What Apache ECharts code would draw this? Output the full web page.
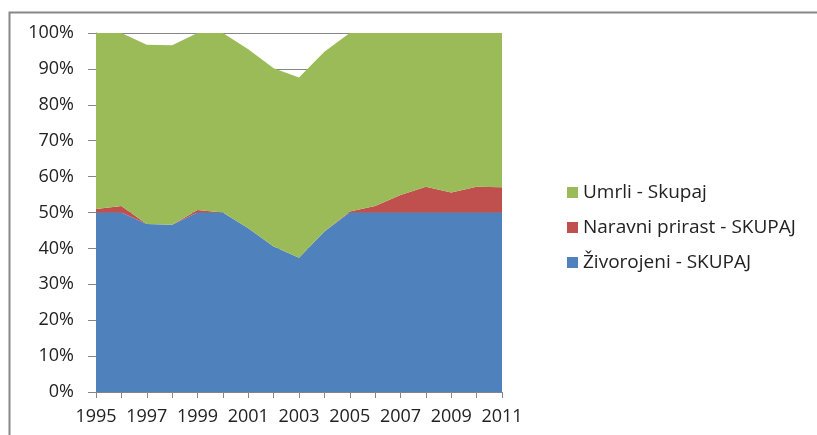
<!DOCTYPE html>
<html>
<head>
<meta charset="utf-8">
<script src="https://cdn.jsdelivr.net/npm/echarts@6/dist/echarts.min.js"></script>
<style>
  html, body { margin: 0; padding: 0; background: #fff; }
  #chart { width: 817px; height: 435px; }
</style>
</head>
<body>
<div id="chart"></div>
<script>
var years = ['1995', '1996', '1997', '1998', '1999', '2000', '2001', '2002', '2003',
  '2004', '2005', '2006', '2007', '2008', '2009', '2010', '2011'];
var zivorojeni = [50, 50, 46.8, 46.6, 50, 50, 45.6, 40.5, 37.4, 44.7, 50, 50, 50, 50, 50, 50, 50];
var prirast = [1.0, 1.8, 0, 0, 0.7, 0, 0, 0, 0, 0, 0.3, 1.8, 4.9, 7.2, 5.6, 7.2, 7.0];
var umrli = [49, 48.2, 49.9, 50, 49.3, 50, 49.9, 49.7, 50.2, 50.1, 49.7, 48.2, 45.1, 42.8, 44.4, 42.8, 43];

var font = '"Open Sans", "DejaVu Sans", sans-serif';
var chart = echarts.init(document.getElementById('chart'));

function area(name, data, color) {
  return {
    name: name,
    type: 'line',
    stack: 'total',
    data: data,
    symbol: 'none',
    lineStyle: { width: 0 },
    areaStyle: { color: color, opacity: 1 },
    itemStyle: { color: color }
  };
}

var option = {
  animation: false,
  graphic: [{
    type: 'rect',
    shape: { x: 9.5, y: 12.5, width: 900, height: 500 },
    style: { fill: 'none', stroke: '#888', lineWidth: 2 }
  }],
  grid: { left: 96, top: 33, width: 406, height: 359 },
  legend: {
    orient: 'vertical',
    left: 562,
    top: 178,
    itemGap: 16,
    itemWidth: 11,
    itemHeight: 11,
    icon: 'rect',
    data: ['Umrli - Skupaj', 'Naravni prirast - SKUPAJ', 'Živorojeni - SKUPAJ'],
    textStyle: { fontFamily: font, fontSize: 19, color: '#222' }
  },
  xAxis: {
    type: 'category',
    data: years,
    boundaryGap: false,
    axisLine: { lineStyle: { color: '#868686' } },
    axisTick: { show: true, length: 6, interval: 0, lineStyle: { color: '#868686' } },
    axisLabel: { interval: 1, fontFamily: font, fontSize: 18, color: '#222', margin: 16 }
  },
  yAxis: {
    type: 'value',
    min: 0,
    max: 100,
    interval: 10,
    axisLine: { show: true, lineStyle: { color: '#868686' } },
    axisTick: { show: true, length: 8, lineStyle: { color: '#868686' } },
    splitLine: { show: true, lineStyle: { color: '#868686' } },
    axisLabel: { formatter: '{value}%', fontFamily: font, fontSize: 18, color: '#222', margin: 22 }
  },
  series: [
    area('Živorojeni - SKUPAJ', zivorojeni, '#4f81bd'),
    area('Naravni prirast - SKUPAJ', prirast, '#c0504d'),
    area('Umrli - Skupaj', umrli, '#9bbb59')
  ]
};
chart.setOption(option);
</script>
</body>
</html>
